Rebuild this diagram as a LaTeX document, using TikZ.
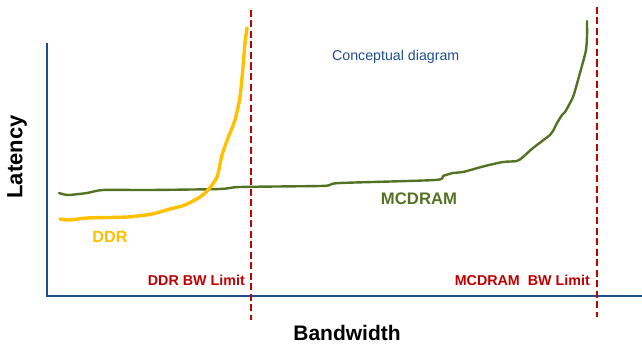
\documentclass[tikz,border=0pt]{standalone}
\usepackage{fontspec}
\setmainfont{Liberation Sans}
\definecolor{axisblue}{RGB}{31,78,140}
\definecolor{limitred}{RGB}{192,0,0}
\definecolor{ddryellow}{RGB}{255,192,0}
\definecolor{mcgreen}{RGB}{84,114,36}
\tikzset{
  axisline/.style={draw=axisblue, line width=2.5pt},
  limitline/.style={draw=limitred, line width=2.3pt, dash pattern=on 7pt off 3.5pt},
  ddrcurve/.style={draw=ddryellow, line width=3.4pt, line cap=round, line join=round},
  mccurve/.style={draw=mcgreen, line width=2.4pt, line cap=round, line join=round},
  lbl/.style={inner sep=0pt, font=\bfseries},
}
\begin{document}
\begin{tikzpicture}[x=1pt,y=-1pt]
\useasboundingbox (0,0) rectangle (642,345);
% axes
\coordinate (ytop) at (47,43);
\coordinate (origin) at (47,296);
\coordinate (xend) at (642,296);
\draw[axisline] (ytop) -- (origin) -- (xend);
% limits
\coordinate (ddrTop) at (251,10);
\coordinate (ddrBot) at (251,320);
\coordinate (mcTop) at (597,7);
\coordinate (mcBot) at (597,317);
\draw[limitline] (ddrTop) -- (ddrBot);
\draw[limitline] (mcTop) -- (mcBot);
% MCDRAM curve
\draw[mccurve] plot[smooth, tension=0.4] coordinates {
 (59,193) (68,195) (87,193) (103,190) (150,190) (220,189) (240,187) (320,186)
 (330,185) (340,183) (435,180) (443,176) (453,173) (463,172) (485,166) (503,162)
 (517,161) (523,157) (533,148) (550,135) (553,131) (557,123) (562,115) (565,112)
 (573,97) (578,80) (583,62) (586,50) (587,37) (587,21)};
% DDR curve
\draw[ddrcurve] plot[smooth, tension=0.4] coordinates {
 (60,219) (70,220) (87,218) (127,217) (152,214) (170,209) (185,205) (200,197)
 (208,190) (217,177) (222,155) (228,138) (235,120) (240,97) (243,67) (245,43) (247,28)};
% labels
\node[lbl, rotate=90, font=\bfseries\fontsize{22}{26}\selectfont] (lat) at (17,157) {Latency};
\node[lbl, font=\bfseries\fontsize{21}{25}\selectfont] (bw) at (347,333) {Bandwidth};
\node[lbl, text=ddryellow, font=\bfseries\fontsize{16.2}{19}\selectfont] (ddrl) at (110,237) {DDR};
\node[lbl, text=mcgreen, font=\bfseries\fontsize{16.7}{19}\selectfont] (mcl) at (419,199) {MCDRAM};
\node[lbl, text=limitred, font=\bfseries\fontsize{14.3}{17}\selectfont, anchor=east] (ddrlim) at (245,280) {DDR BW Limit};
\node[lbl, text=limitred, font=\bfseries\fontsize{14.3}{17}\selectfont, anchor=east] (mclim) at (590,280) {MCDRAM\ \ BW Limit};
\node[inner sep=0pt, text=axisblue, font=\fontsize{14.2}{17}\selectfont, anchor=west] (concept) at (332,57) {Conceptual diagram};
\end{tikzpicture}
\end{document}
